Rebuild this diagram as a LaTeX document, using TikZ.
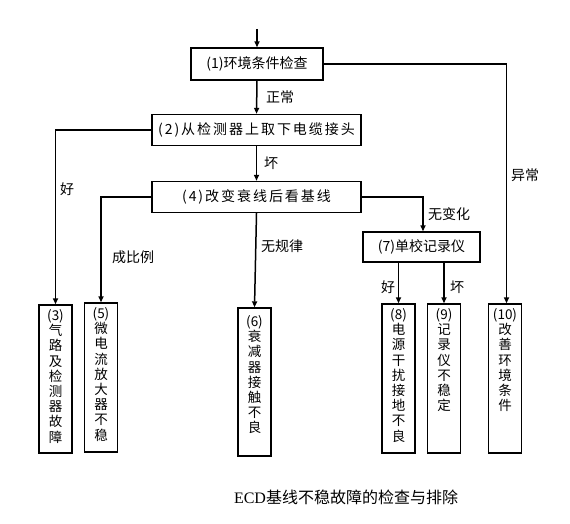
\documentclass[tikz,border=0pt]{standalone}
\usepackage{fontspec}
\newfontfamily\cjk{Noto Sans CJK SC}
\newfontfamily\cjkwide[LetterSpace=14]{Noto Sans CJK SC}
\newfontfamily\capserif{Liberation Serif}
\usetikzlibrary{arrows.meta}
\begin{document}
\begin{tikzpicture}[x=1pt,y=-1pt,
  hbox/.style={draw,line width=1.4pt,inner sep=0pt,font=\cjk\fontsize{14}{16}\selectfont},
  vbox/.style={draw,line width=1.4pt,inner sep=0pt,font=\cjk\fontsize{13.5}{15.2}\selectfont},
  lbl/.style={font=\cjk\fontsize{14}{16}\selectfont,inner sep=0pt},
  conn/.style={line width=1.5pt},
  arr/.style={conn,-{Triangle[length=6pt,width=5pt]}}]
\useasboundingbox (0,0) rectangle (570,524);
\fill[white] (0,0) rectangle (570,524);
% horizontal boxes
\node[hbox,minimum width=132pt,minimum height=32pt] (b1) at (257,64) {(1)环境条件检查};
\node[hbox,minimum width=209pt,minimum height=31pt,font=\cjkwide\fontsize{14}{16}\selectfont] (b2) at (256.5,130) {(2)从检测器上取下电缆接头};
\node[hbox,minimum width=209pt,minimum height=31pt,font=\cjkwide\fontsize{14}{16}\selectfont] (b4) at (256.5,197) {(4)改变衰线后看基线};
\node[hbox,minimum width=117pt,minimum height=30pt] (b7) at (421.5,247) {(7)单校记录仪};
% vertical boxes
\newcommand{\vcol}[2]{\parbox[c][#1pt][t]{33pt}{\centering\vspace{4.5pt}#2}}
\node[vbox] (b3) at (55.5,379) {\vcol{148}{(3)\\气\\路\\及\\检\\测\\器\\故\\障}};
\node[vbox] (b5) at (101,377.5) {\vcol{149}{(5)\\微\\电\\流\\放\\大\\器\\不\\稳}};
\node[vbox] (b6) at (254.5,382) {\vcol{148}{\vspace{3pt}(6)\\衰\\减\\器\\接\\触\\不\\良}};
\node[vbox] (b8) at (398.5,378.5) {\vcol{149}{(8)\\电\\源\\干\\扰\\接\\地\\不\\良}};
\node[vbox] (b9) at (444,378.5) {\vcol{149}{(9)\\记\\录\\仪\\不\\稳\\定}};
\node[vbox] (b10) at (505,378.5) {\vcol{149}{(10)\\改\\善\\环\\境\\条\\件}};
% connectors
\coordinate (start) at (257,29);
\draw[arr] (start) -- (b1.north);
\draw[arr] (b1.south) -- (b2.north);
\draw[arr] (b2.south) -- (b4.north);
\draw[arr] (b2.west) -| (b3.north);
\draw[arr] (b4.west) -| (b5.north);
\draw[arr] (b4.south) -- (b6.north);
\draw[arr] (b4.east) -| ([xshift=1.5pt]b7.north);
\draw[arr] (b7.south -| b8.north) -- (b8.north);
\draw[arr] (b7.south -| b9.north) -- (b9.north);
\draw[arr] (b1.east) -| ([xshift=1.5pt]b10.north);
% labels
\node[lbl] (l1) at (280,97) {正常};
\node[lbl] (l2) at (271,163) {坏};
\node[lbl] (l3) at (67,189) {好};
\node[lbl] (l4) at (133,257) {成比例};
\node[lbl] (l5) at (282,246) {无规律};
\node[lbl] (l6) at (449,214) {无变化};
\node[lbl] (l7) at (388,287) {好};
\node[lbl] (l8) at (457,287) {坏};
\node[lbl] (l9) at (525,175) {异常};
% caption
\node[inner sep=0pt,font=\fontsize{16}{18}\selectfont] (cap) at (346,497) {{\capserif ECD}{\cjk 基线不稳故障的检查与排除}};
\end{tikzpicture}
\end{document}
